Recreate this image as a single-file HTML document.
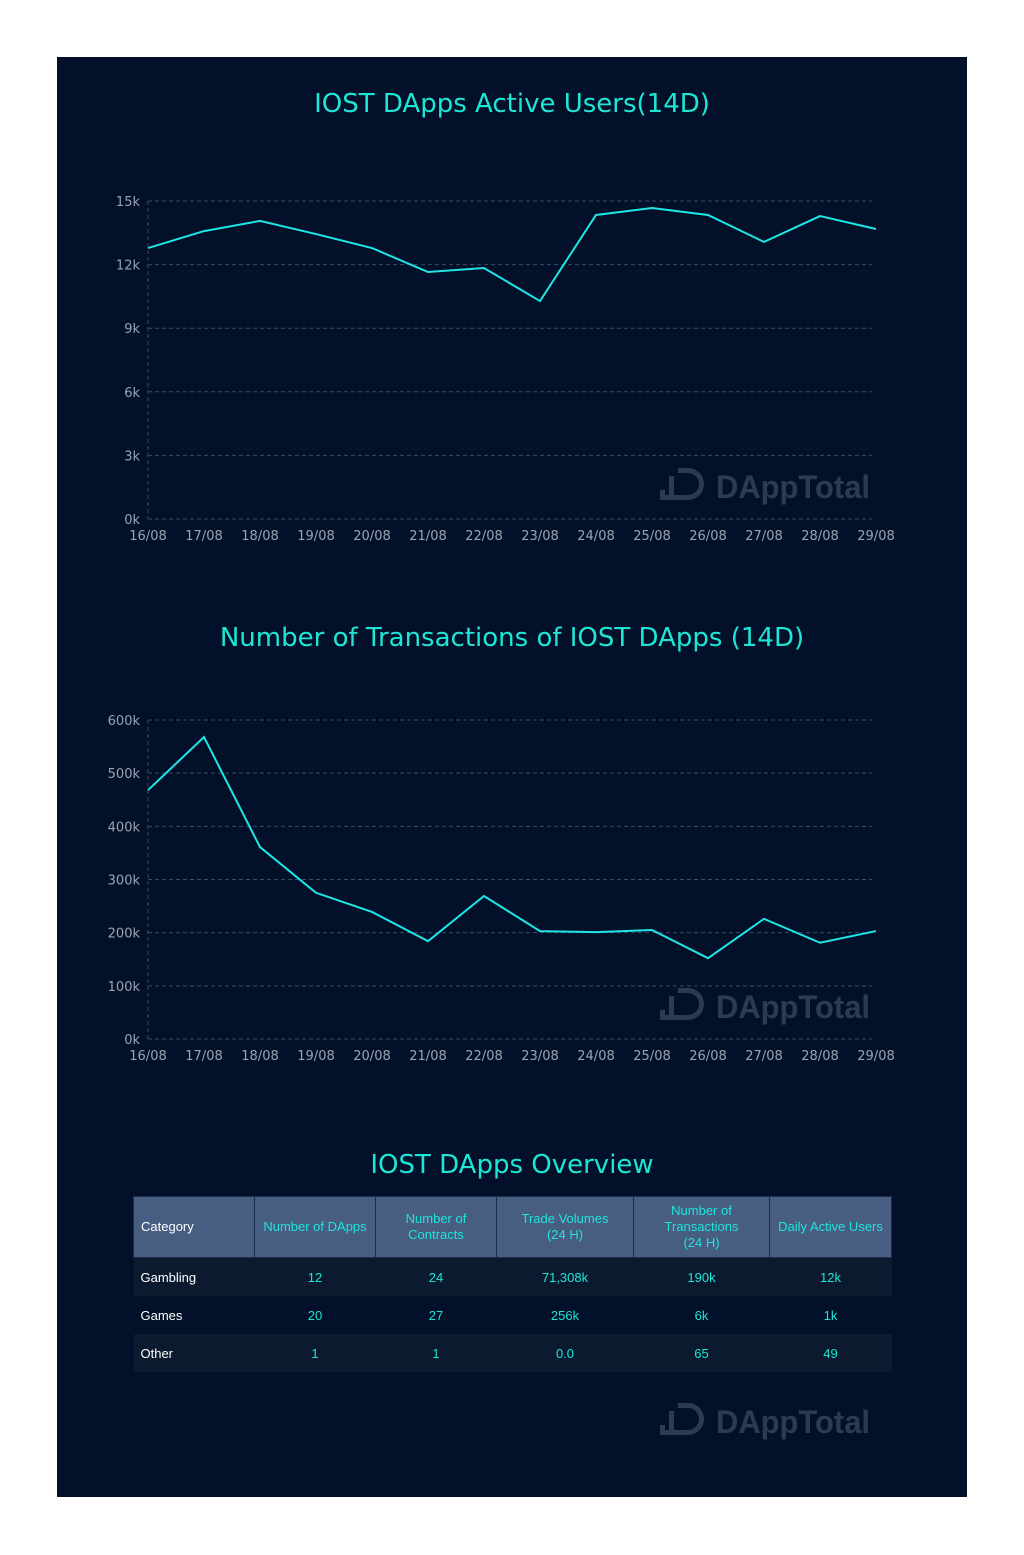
<!DOCTYPE html>
<html><head><meta charset="utf-8"><style>
html,body{margin:0;padding:0;background:#fff;width:1024px;height:1555px;overflow:hidden}
#panel{position:absolute;left:57px;top:57px;width:910px;height:1440px;background:#021129}
svg{position:absolute;left:0;top:0}
table{position:absolute;left:133px;top:1196px;width:758px;border-collapse:collapse;font-family:"Liberation Sans",sans-serif;font-size:13px;table-layout:fixed}
th{background:#475d82;color:#1ee6d6;font-weight:normal;height:60px;border:1px solid #1e2e4a;line-height:16px;padding:0}
th:first-child{text-align:left;padding-left:7px;color:#fff}
td{height:38px;text-align:center;color:#1ee6d6;padding:0}
td:first-child{text-align:left;padding-left:7px;color:#fff}
tr.odd td{background:#0c1a30}
tr.even td{background:#021129}
</style></head><body>
<div id="panel"></div>
<svg id="s" width="1024" height="1555" font-family="DejaVu Sans, sans-serif"></svg>
<table>
<colgroup><col style="width:121px"><col style="width:121px"><col style="width:121px"><col style="width:137px"><col style="width:136px"><col style="width:122px"></colgroup>
<tr><th>Category</th><th>Number of DApps</th><th>Number of<br>Contracts</th><th>Trade Volumes<br>(24 H)</th><th>Number of<br>Transactions<br>(24 H)</th><th>Daily Active Users</th></tr>
<tr class="odd"><td>Gambling</td><td>12</td><td>24</td><td>71,308k</td><td>190k</td><td>12k</td></tr>
<tr class="even"><td>Games</td><td>20</td><td>27</td><td>256k</td><td>6k</td><td>1k</td></tr>
<tr class="odd"><td>Other</td><td>1</td><td>1</td><td>0.0</td><td>65</td><td>49</td></tr>
</table>
<script>
const dates=["16/08","17/08","18/08","19/08","20/08","21/08","22/08","23/08","24/08","25/08","26/08","27/08","28/08","29/08"];
const usersK=[12.78,13.58,14.06,13.44,12.78,11.65,11.84,10.28,14.34,14.67,14.34,13.07,14.29,13.68];
const usersTicks=[0,3,6,9,12,15];
const txK=[468,568,361,275,239,184,269,203,201,205,152,226,181,203];
const txTicks=[0,100,200,300,400,500,600];
const NS="http://www.w3.org/2000/svg";
const svg=document.getElementById('s');
function mk(tag,attrs,parent){const e=document.createElementNS(NS,tag);for(const k in attrs)e.setAttribute(k,attrs[k]);(parent||svg).appendChild(e);return e;}
function title(txt,y,name){const t=mk('text',{x:512,y:y,'text-anchor':'middle',fill:'#1ee6d6','font-size':26});t.textContent=txt;

}
function logo(x,y,name){const g=mk('g',{});


mk('rect',{x:x,y:y+22,width:5,height:5,fill:'#2c3b52'},g);
mk('rect',{x:x+9,y:y+8,width:5,height:20,fill:'#2c3b52'},g);
mk('path',{d:`M${x+18} ${y} h10 a16 16 0 0 1 0 32 h-28 v-5 h28 a11 11 0 0 0 0 -22 h-10 z`,fill:'#2c3b52'},g);
const t=mk('text',{x:x+56,y:y+30,fill:'#2c3b52','font-size':32,'font-weight':'bold','font-family':'Liberation Sans, sans-serif',textLength:154,lengthAdjust:'spacingAndGlyphs'},g);t.textContent='DAppTotal';}
function chart(vals,ticks,y0,y1,prefix){
  const x0=148,step=56,max=ticks[ticks.length-1];
  const X=i=>x0+i*step, Y=v=>y0-(v/max)*(y0-y1);
  const g=mk('g',{});
  
  
  mk('line',{x1:x0,y1:y1,x2:x0,y2:y0,stroke:'#3a4a66','stroke-dasharray':'4 3'},g);
  ticks.forEach(t=>{
    const l=mk('line',{x1:x0,x2:872,y1:Y(t),y2:Y(t),stroke:'#3a4a66','stroke-dasharray':'4 3'},g);
    
    
    const tx=mk('text',{x:x0-8,y:Y(t)+5,'text-anchor':'end',fill:'#9aa3b0','font-size':13},g);tx.textContent=t+'k';
    
    
  });
  dates.forEach((d,i)=>{const tx=mk('text',{x:X(i),y:y0+21,'text-anchor':'middle',fill:'#9aa3b0','font-size':13},g);tx.textContent=d;
    
    });
  logo(660,y0-51,prefix+'-watermark');
  const p=mk('polyline',{points:vals.map((v,i)=>X(i)+','+Y(v)).join(' '),fill:'none',stroke:'#1ee6e6','stroke-width':2},g);
  
  
}
title('IOST DApps Active Users(14D)',112,'users-chart-title');
title('Number of Transactions of IOST DApps (14D)',646,'tx-chart-title');
title('IOST DApps Overview',1173,'overview-title');
chart(usersK,usersTicks,519,201,'users');
chart(txK,txTicks,1039,720,'tx');
logo(660,1403,'table-watermark');
</script>
</body></html>
